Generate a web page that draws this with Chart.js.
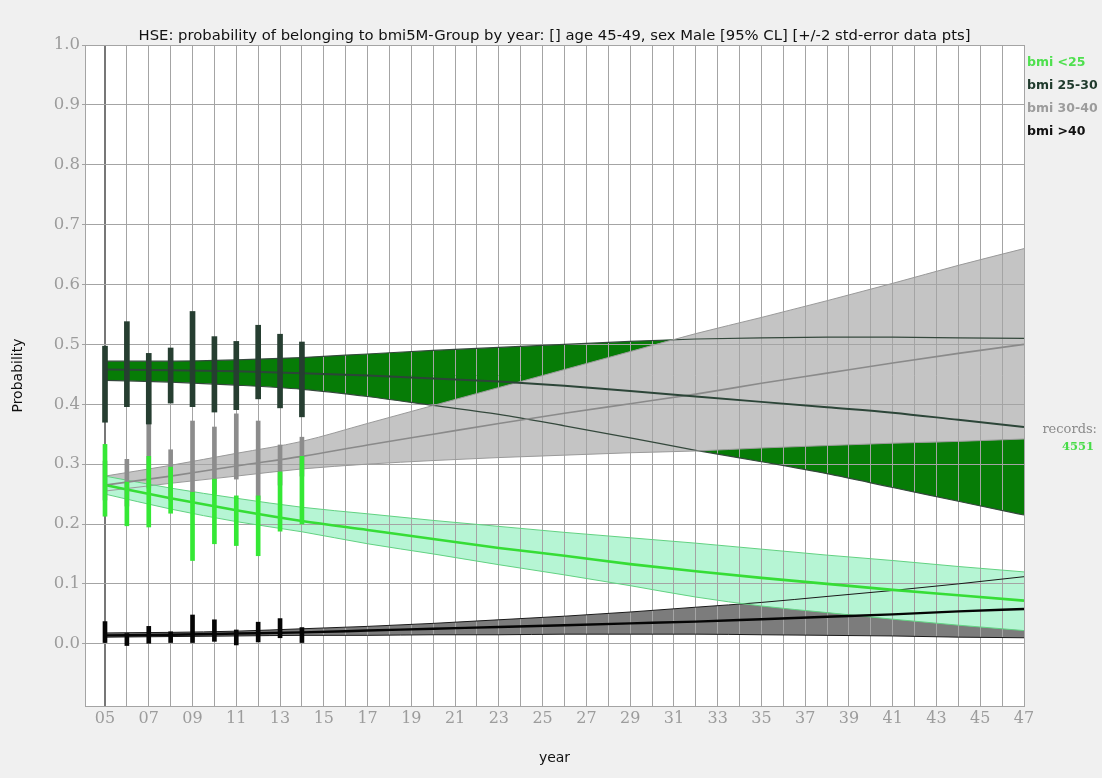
<!DOCTYPE html>
<html><head><meta charset="utf-8">
<script src="https://cdn.jsdelivr.net/npm/chart.js@4.4.1/dist/chart.umd.min.js"></script>
<style>html,body{margin:0;padding:0;background:#f0f0f0;}#wrap{width:1102px;height:778px;}</style>
</head><body><div id="wrap"><canvas id="c" width="1102" height="778"></canvas></div>
<script>
// ---- data ----
const fitYears = [5,8,11,14,17,20,23,26,29,32,35,38,41,44,47];

// bmi <25
const normUpper = [0.280,0.260,0.243,0.228,0.217,0.206,0.196,0.186,0.177,0.168,0.158,0.148,0.139,0.129,0.120];
const normMid   = [0.265,0.243,0.223,0.205,0.190,0.175,0.160,0.147,0.133,0.121,0.110,0.100,0.090,0.081,0.072];
const normLower = [0.250,0.225,0.204,0.187,0.167,0.150,0.132,0.115,0.097,0.078,0.063,0.052,0.041,0.031,0.022];
// bmi 25-30
const overUpper = [0.472,0.472,0.474,0.478,0.484,0.490,0.495,0.500,0.505,0.509,0.511,0.512,0.512,0.511,0.510];
const overMid   = [0.458,0.457,0.455,0.452,0.448,0.443,0.438,0.431,0.422,0.413,0.404,0.395,0.386,0.374,0.362];
const overLower = [0.440,0.437,0.432,0.425,0.413,0.398,0.383,0.364,0.344,0.323,0.304,0.284,0.261,0.238,0.215];
// bmi 30-40
const obeseUpper = [0.280,0.298,0.318,0.338,0.368,0.398,0.428,0.458,0.488,0.518,0.545,0.573,0.602,0.632,0.660];
const obeseMid   = [0.265,0.280,0.297,0.313,0.332,0.350,0.368,0.385,0.401,0.417,0.435,0.452,0.469,0.485,0.500];
const obeseLower = [0.255,0.268,0.280,0.292,0.300,0.306,0.311,0.315,0.319,0.322,0.327,0.331,0.335,0.338,0.342];
// bmi >40
const morbidUpper = [0.018,0.019,0.021,0.025,0.029,0.034,0.040,0.046,0.053,0.061,0.069,0.079,0.089,0.100,0.112];
const morbidMid   = [0.014,0.015,0.017,0.019,0.022,0.025,0.028,0.031,0.034,0.037,0.041,0.045,0.049,0.054,0.058];
const morbidLower = [0.011,0.012,0.013,0.014,0.014,0.015,0.015,0.016,0.016,0.016,0.015,0.014,0.013,0.011,0.010];

// survey data points (+/- 2 std-error)
const dataYears = [5,6,7,8,9,10,11,12,13,14];
const normBarHigh = [0.333,0.270,0.313,0.295,0.253,0.275,0.247,0.247,0.287,0.313];
const normBarLow  = [0.213,0.197,0.195,0.218,0.139,0.167,0.164,0.147,0.188,0.200];
const overBarHigh = [0.497,0.538,0.485,0.494,0.555,0.513,0.505,0.532,0.517,0.504];
const overBarLow  = [0.370,0.396,0.367,0.402,0.396,0.387,0.391,0.409,0.394,0.379];
const obeseBarHigh = [0.305,0.308,0.390,0.324,0.372,0.362,0.384,0.372,0.332,0.345];
const obeseBarLow  = [0.240,0.230,0.260,0.240,0.240,0.250,0.275,0.240,0.265,0.280];
const morbidBarHigh = [0.037,0.017,0.029,0.020,0.048,0.040,0.023,0.036,0.042,0.027];
const morbidBarLow  = [0.002,-0.003,0.000,0.002,0.002,0.004,-0.002,0.003,0.010,0.002];

const xTickYears = [5,6,7,8,9,10,11,12,13,14,15,16,17,18,19,20,21,22,23,24,25,26,27,28,29,30,31,32,33,34,35,36,37,38,39,40,41,42,43,44,45,46,47];
const yTickValues = [0,0.1,0.2,0.3,0.4,0.5,0.6,0.7,0.8,0.9,1.0];
const legendLabels = ['bmi <25','bmi 25-30','bmi 30-40','bmi >40'];
const legendColors = ['#4fe04f','#1f3a2c','#9c9c9c','#111111'];
const recordsLabel = 'records:';
const recordsCount = '4551';
const titleText = 'HSE: probability of belonging to bmi5M-Group by year: [] age 45-49, sex Male [95% CL] [+/-2 std-error data pts]';

// ---- datasets ----
const pts = arr => fitYears.map((x, i) => ({x, y: arr[i]}));
const bars = (lo, hi) => dataYears.map((x, i) => ({x, y: [lo[i], hi[i]]}));
const datasets = [];
function band(upper, lower, fillColor, edgeColor, edgeW, order) {
  const li = datasets.length;
  datasets.push({type:'line', data:pts(lower), borderColor:edgeColor, borderWidth:edgeW, pointRadius:0, fill:false, order:order+1, cubicInterpolationMode:'monotone'});
  datasets.push({type:'line', data:pts(upper), borderColor:edgeColor, borderWidth:edgeW, pointRadius:0, fill:{target:li}, backgroundColor:fillColor, order:order, cubicInterpolationMode:'monotone'});
}
function mid(arr, color, w, order) {
  datasets.push({type:'line', data:pts(arr), borderColor:color, borderWidth:w, pointRadius:0, fill:false, order, cubicInterpolationMode:'monotone'});
}
function errBars(lo, hi, color, w, order) {
  datasets.push({type:'bar', data:bars(lo, hi), backgroundColor:color, borderWidth:0, barThickness:w, grouped:false, order});
}
band(overUpper, overLower, '#067c06', '#34483c', 1.2, 40);
band(obeseUpper, obeseLower, '#c4c4c4', '#9a9a9a', 1, 30);
band(morbidUpper, morbidLower, '#7c7c7c', '#1a1a1a', 1, 20);
band(normUpper, normLower, '#b6f5d4', '#62d282', 1, 10);
mid(obeseMid, '#8a8a8a', 1.6, 8);
mid(overMid, '#2c4538', 2, 7);
mid(morbidMid, '#050505', 2.4, 6);
mid(normMid, '#36dd36', 2.6, 5);
errBars(obeseBarLow, obeseBarHigh, '#8c8c8c', 4, 4);
errBars(overBarLow, overBarHigh, '#263e31', 5, 3);
errBars(normBarLow, normBarHigh, '#35e835', 4, 2);
errBars(morbidBarLow, morbidBarHigh, '#050505', 4, 1);

// ---- plugins ----
const plotBg = {
  id: 'plotBg',
  beforeDraw(chart) {
    const {ctx, chartArea: a} = chart;
    ctx.save(); ctx.fillStyle = '#ffffff';
    ctx.fillRect(a.left, a.top, a.right - a.left, a.bottom - a.top);
    ctx.restore();
  }
};
const regrid = {
  id: 'regrid',
  beforeDatasetsDraw(chart) {
    chart.scales.x.drawGrid(chart.chartArea);
    chart.scales.y.drawGrid(chart.chartArea);
  }
};
const sideText = {
  id: 'sideText',
  afterDraw(chart) {
    const {ctx, chartArea: a} = chart;
    ctx.save();
    ctx.textBaseline = 'middle';
    ctx.textAlign = 'left';
    ctx.font = 'bold 12.5px "DejaVu Sans"';
    legendLabels.forEach((t, i) => { ctx.fillStyle = legendColors[i]; ctx.fillText(t, a.right + 3, 63 + i * 22.8); });
    ctx.textAlign = 'right';
    ctx.font = '13px "DejaVu Serif"';
    ctx.fillStyle = '#8a8a8a';
    ctx.fillText(recordsLabel, 1097, 430);
    ctx.font = 'bold 11.5px "DejaVu Serif"';
    ctx.fillStyle = '#48dc48';
    ctx.fillText(recordsCount, 1094, 447);
    ctx.restore();
  }
};

const gridColor = c => (c.tick && c.tick.value === 5) ? '#777777' : '#a4a4a4';
const gridWidth = c => (c.tick && c.tick.value === 5) ? 2 : 1;

new Chart(document.getElementById('c'), {
  type: 'line',
  data: { datasets },
  plugins: [plotBg, regrid, sideText],
  options: {
    responsive: false,
    animation: false,
    devicePixelRatio: 1,
    layout: { padding: { left: 0, right: 78, top: 27.3, bottom: 0 } },
    plugins: {
      legend: { display: false },
      tooltip: { enabled: false },
      filler: { drawTime: 'beforeDatasetsDraw' },
      title: {
        display: true, text: titleText, fullSize: false,
        font: { family: 'DejaVu Sans', size: 14.8, weight: 'normal' },
        color: '#111111', padding: { top: 0, bottom: 0 }
      }
    },
    scales: {
      x: {
        type: 'linear', min: 4.086, max: 47, offset: false,
        afterBuildTicks: s => { s.ticks = xTickYears.map(v => ({value: v})); },
        afterFit: s => { s.height = 72; },
        grid: { offset: false, drawTicks: false, color: gridColor, lineWidth: gridWidth },
        border: { color: '#a4a4a4' },
        ticks: {
          autoSkip: false, maxRotation: 0, padding: 3,
          callback: v => (v % 2 === 1) ? String(v).padStart(2, '0') : '',
          font: { family: 'DejaVu Serif', size: 16 }, color: '#9c9c9c'
        },
        title: { display: true, text: 'year', font: { family: 'DejaVu Sans', size: 14 }, color: '#111111', padding: { top: 0, bottom: 11 } }
      },
      y: {
        type: 'linear', min: -0.104, max: 1.0,
        afterBuildTicks: s => { s.ticks = yTickValues.map(v => ({value: v})); },
        afterFit: s => { s.width = 85; },
        grid: { color: '#a4a4a4', tickLength: 3 },
        border: { color: '#a4a4a4' },
        ticks: {
          padding: 2,
          callback: v => v.toFixed(1),
          font: { family: 'DejaVu Serif', size: 16.5 }, color: '#9c9c9c'
        },
        title: { display: true, text: 'Probability', font: { family: 'DejaVu Sans', size: 14 }, color: '#111111', padding: { top: 10, bottom: 0 } }
      }
    }
  }
});
</script></body></html>
